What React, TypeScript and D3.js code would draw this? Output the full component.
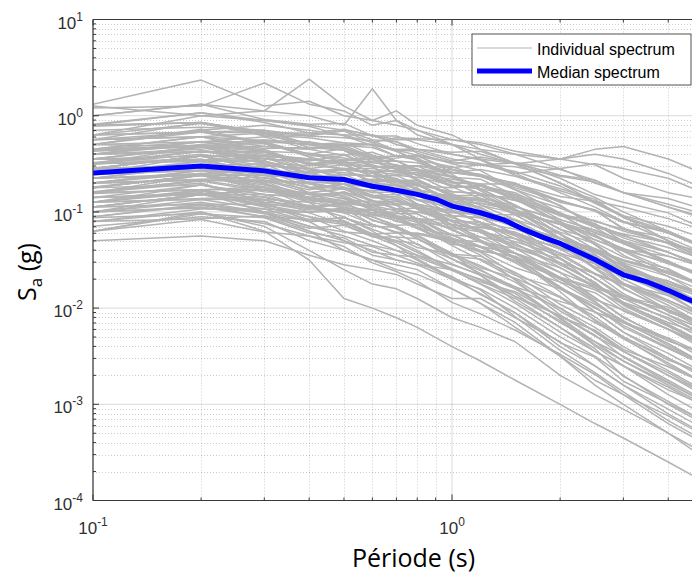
import React from "react";
import * as d3 from "d3";

// Periods (s) at which the individual spectra are sampled
const periods = [0.1, 0.2, 0.3, 0.4, 0.5, 0.6, 0.7, 0.8, 1.0, 1.2, 1.5, 2.0, 2.5, 3.0, 4.0, 5.0];

// Individual spectra, log10(Sa [g]) at each period above
const spectraLog10: number[][] = [
  [0.12, 0.37, 0.10, 0.15, 0.0, -0.05, -0.1, -0.15, -0.25, -0.3, -0.4, -0.55, -0.7, -0.8, -0.95, -1.05],
  [0.08, 0.1, 0.34, 0.12, 0.05, -0.1, -0.05, -0.2, -0.3, -0.45, -0.6, -0.8, -0.95, -1.1, -1.3, -1.45],
  [0.1, 0.0, 0.05, 0.38, 0.1, -0.05, 0.05, -0.1, -0.2, -0.35, -0.5, -0.7, -0.9, -1.05, -1.3, -1.5],
  [0.0, 0.12, 0.05, 0.0, -0.1, 0.28, -0.05, -0.15, -0.3, -0.4, -0.5, -0.7, -0.85, -1.0, -1.2, -1.35],
  [-0.3, -0.15, -0.1, -0.15, -0.2, -0.2, -0.25, -0.25, -0.3, -0.35, -0.4, -0.45, -0.35, -0.32, -0.45, -0.6],
  [-0.4, -0.3, -0.25, -0.3, -0.3, -0.3, -0.35, -0.35, -0.4, -0.45, -0.5, -0.45, -0.4, -0.45, -0.6, -0.75],
  [-0.2, 0.0, -0.05, -0.1, -0.15, -0.2, -0.3, -0.35, -0.45, -0.5, -0.6, -0.55, -0.5, -0.55, -0.65, -0.8],
  [-1.2, -1.0, -1.2, -1.5, -1.9, -2.0, -2.1, -2.2, -2.4, -2.55, -2.75, -3.0, -3.2, -3.35, -3.6, -3.8],
  [-1.1, -1.0, -1.15, -1.4, -1.6, -1.75, -1.8, -1.9, -2.1, -2.2, -2.35, -2.7, -2.9, -3.05, -3.3, -3.5],
  [-1.3, -1.25, -1.3, -1.45, -1.55, -1.6, -1.65, -1.75, -1.9, -1.9, -2.1, -2.35, -2.6, -2.8, -3.1, -3.3],
  [-0.9, -0.8, -1.0, -1.2, -1.4, -1.5, -1.55, -1.6, -1.8, -1.95, -2.2, -2.5, -2.75, -2.9, -3.2, -3.4],
  [-1.0, -0.95, -1.05, -1.2, -1.3, -1.45, -1.5, -1.55, -1.6, -1.75, -1.9, -2.2, -2.45, -2.6, -2.85, -3.0],
  [-0.10, 0.03, -0.07, -0.18, -0.14, -0.21, -0.21, -0.29, -0.40, -0.46, -0.62, -0.76, -0.87, -1.06, -1.22, -1.37],
  [-0.10, -0.07, -0.19, -0.21, -0.23, -0.26, -0.36, -0.41, -0.59, -0.63, -0.77, -0.93, -1.16, -1.33, -1.51, -1.67],
  [-0.20, -0.17, -0.15, -0.21, -0.15, -0.25, -0.27, -0.35, -0.38, -0.37, -0.49, -0.65, -0.82, -0.90, -1.01, -1.17],
  [-0.25, -0.17, -0.18, -0.33, -0.36, -0.45, -0.56, -0.57, -0.68, -0.83, -0.99, -1.27, -1.42, -1.56, -1.80, -1.97],
  [-0.35, -0.22, -0.26, -0.27, -0.33, -0.44, -0.42, -0.42, -0.56, -0.61, -0.75, -0.89, -0.98, -1.18, -1.33, -1.51],
  [-0.30, -0.14, -0.29, -0.40, -0.48, -0.53, -0.55, -0.67, -0.84, -1.01, -1.13, -1.34, -1.59, -1.79, -2.04, -2.17],
  [-0.35, -0.27, -0.34, -0.33, -0.31, -0.30, -0.36, -0.37, -0.47, -0.43, -0.49, -0.62, -0.67, -0.80, -0.95, -1.07],
  [-0.40, -0.38, -0.37, -0.39, -0.44, -0.51, -0.59, -0.59, -0.70, -0.71, -0.87, -1.11, -1.21, -1.32, -1.52, -1.67],
  [-0.36, -0.32, -0.35, -0.51, -0.55, -0.70, -0.72, -0.75, -0.98, -1.11, -1.33, -1.55, -1.73, -1.97, -2.19, -2.37],
  [-0.45, -0.32, -0.40, -0.45, -0.49, -0.49, -0.51, -0.57, -0.56, -0.63, -0.71, -0.90, -0.98, -1.11, -1.20, -1.37],
  [-0.49, -0.37, -0.38, -0.51, -0.47, -0.59, -0.68, -0.69, -0.81, -0.93, -1.01, -1.21, -1.33, -1.54, -1.75, -1.87],
  [-0.50, -0.46, -0.44, -0.57, -0.59, -0.63, -0.72, -0.79, -0.88, -1.02, -1.15, -1.37, -1.51, -1.74, -1.92, -2.07],
  [-0.50, -0.40, -0.49, -0.52, -0.49, -0.58, -0.61, -0.59, -0.74, -0.73, -0.87, -1.04, -1.12, -1.31, -1.46, -1.57],
  [-0.55, -0.42, -0.55, -0.63, -0.71, -0.85, -0.88, -0.97, -1.10, -1.29, -1.47, -1.79, -1.96, -2.13, -2.39, -2.57],
  [-0.55, -0.52, -0.50, -0.59, -0.56, -0.69, -0.68, -0.72, -0.87, -0.87, -0.99, -1.13, -1.32, -1.47, -1.59, -1.77],
  [-0.60, -0.48, -0.61, -0.62, -0.68, -0.68, -0.77, -0.87, -0.91, -1.04, -1.09, -1.33, -1.53, -1.62, -1.82, -1.97],
  [-0.56, -0.52, -0.58, -0.58, -0.55, -0.55, -0.59, -0.61, -0.66, -0.71, -0.71, -0.84, -0.89, -1.04, -1.15, -1.27],
  [-0.65, -0.52, -0.65, -0.71, -0.75, -0.85, -0.84, -0.95, -1.09, -1.19, -1.37, -1.53, -1.74, -1.94, -2.10, -2.27],
  [-0.65, -0.60, -0.58, -0.66, -0.66, -0.71, -0.73, -0.81, -0.85, -0.88, -1.01, -1.13, -1.26, -1.38, -1.54, -1.67],
  [-0.70, -0.57, -0.71, -0.82, -0.83, -0.97, -1.10, -1.13, -1.32, -1.42, -1.65, -1.96, -2.15, -2.31, -2.59, -2.77],
  [-0.70, -0.66, -0.64, -0.75, -0.71, -0.80, -0.79, -0.88, -0.95, -1.01, -1.09, -1.32, -1.41, -1.59, -1.72, -1.87],
  [-0.75, -0.62, -0.74, -0.85, -0.79, -0.89, -0.97, -0.96, -1.13, -1.18, -1.35, -1.49, -1.69, -1.88, -1.99, -2.17],
  [-0.79, -0.67, -0.69, -0.69, -0.71, -0.75, -0.76, -0.82, -0.83, -0.83, -0.85, -1.02, -1.16, -1.23, -1.32, -1.47],
  [-0.80, -0.77, -0.74, -0.88, -0.91, -0.95, -1.05, -1.11, -1.30, -1.36, -1.51, -1.69, -1.93, -2.15, -2.31, -2.47],
  [-0.80, -0.68, -0.79, -0.82, -0.80, -0.93, -0.92, -0.93, -1.06, -1.15, -1.21, -1.39, -1.57, -1.66, -1.85, -1.97],
  [-0.81, -0.77, -0.91, -0.98, -0.97, -1.13, -1.21, -1.34, -1.49, -1.64, -1.78, -2.11, -2.38, -2.55, -2.78, -2.97],
  [-0.85, -0.82, -0.77, -0.85, -0.89, -0.89, -0.89, -0.96, -1.01, -1.03, -1.16, -1.27, -1.38, -1.51, -1.64, -1.77],
  [-0.90, -0.78, -0.90, -0.93, -1.00, -1.05, -1.14, -1.13, -1.28, -1.40, -1.47, -1.70, -1.91, -2.02, -2.22, -2.37],
  [-0.90, -0.86, -0.84, -0.96, -0.92, -1.01, -1.00, -1.10, -1.16, -1.21, -1.31, -1.45, -1.65, -1.76, -1.92, -2.07],
  [-0.95, -0.82, -0.94, -1.08, -1.06, -1.15, -1.16, -1.28, -1.43, -1.58, -1.69, -1.89, -2.12, -2.30, -2.54, -2.67],
  [-0.95, -0.92, -1.00, -1.00, -0.99, -0.98, -1.05, -1.07, -1.18, -1.16, -1.23, -1.38, -1.45, -1.61, -1.74, -1.87],
  [-1.00, -0.96, -1.00, -1.10, -1.09, -1.23, -1.30, -1.33, -1.54, -1.66, -1.88, -2.08, -2.29, -2.45, -2.70, -2.87],
  [-1.05, -0.93, -1.05, -1.08, -1.13, -1.13, -1.21, -1.23, -1.31, -1.41, -1.46, -1.69, -1.81, -1.96, -2.15, -2.27],
  [-1.06, -1.02, -1.06, -1.22, -1.27, -1.42, -1.45, -1.53, -1.67, -1.86, -2.05, -2.36, -2.51, -2.76, -2.99, -3.17],
  [-1.10, -1.07, -1.04, -1.17, -1.14, -1.26, -1.26, -1.28, -1.46, -1.49, -1.66, -1.80, -2.00, -2.14, -2.34, -2.47],
  [0.00, 0.12, -0.04, -0.09, -0.08, -0.21, -0.27, -0.39, -0.50, -0.57, -0.77, -1.01, -1.25, -1.40, -1.60, -1.77],
  [-0.09, 0.03, -0.05, -0.11, -0.21, -0.31, -0.42, -0.46, -0.61, -0.78, -0.97, -1.28, -1.46, -1.67, -1.85, -2.07],
  [-0.20, -0.08, -0.20, -0.23, -0.28, -0.30, -0.37, -0.46, -0.53, -0.63, -0.70, -0.94, -1.13, -1.24, -1.42, -1.57],
  [-0.35, -0.31, -0.29, -0.42, -0.40, -0.53, -0.53, -0.55, -0.73, -0.76, -0.94, -1.10, -1.29, -1.41, -1.64, -1.77],
  [-0.50, -0.37, -0.42, -0.46, -0.47, -0.45, -0.44, -0.41, -0.48, -0.51, -0.49, -0.56, -0.67, -0.80, -0.86, -0.97],
  [-0.74, -0.62, -0.68, -0.86, -0.93, -1.09, -1.15, -1.25, -1.43, -1.66, -1.93, -2.20, -2.42, -2.71, -2.97, -3.17],
  [-0.60, -0.57, -0.60, -0.65, -0.74, -0.83, -0.86, -0.97, -1.14, -1.30, -1.43, -1.63, -1.89, -2.09, -2.34, -2.47],
  [-0.90, -0.78, -0.93, -1.01, -1.13, -1.25, -1.35, -1.49, -1.68, -1.81, -2.09, -2.44, -2.67, -2.87, -3.17, -3.37],
  [-0.37, -0.32, -0.37, -0.55, -0.66, -0.73, -0.77, -0.92, -1.18, -1.31, -1.49, -1.83, -2.13, -2.32, -2.57, -2.77],
  [-1.20, -1.08, -1.21, -1.25, -1.32, -1.36, -1.45, -1.47, -1.61, -1.73, -1.83, -2.09, -2.23, -2.43, -2.61, -2.77],
  [-0.25, -0.22, -0.18, -0.18, -0.20, -0.28, -0.23, -0.24, -0.25, -0.28, -0.37, -0.45, -0.51, -0.65, -0.80, -0.87],
  [-0.55, -0.42, -0.57, -0.74, -0.76, -0.89, -0.93, -1.09, -1.31, -1.45, -1.71, -2.07, -2.28, -2.51, -2.77, -2.97],
  [-0.75, -0.62, -0.77, -0.82, -0.89, -0.93, -1.04, -1.07, -1.27, -1.37, -1.51, -1.80, -1.99, -2.18, -2.41, -2.57],
  [-0.11, -0.07, -0.21, -0.28, -0.34, -0.41, -0.53, -0.66, -0.83, -0.98, -1.14, -1.48, -1.76, -1.94, -2.18, -2.37],
  [-0.95, -0.82, -0.88, -0.97, -0.90, -0.93, -0.89, -0.95, -0.99, -1.03, -1.03, -1.11, -1.24, -1.39, -1.46, -1.57],
  [-0.45, -0.33, -0.45, -0.49, -0.56, -0.60, -0.70, -0.71, -0.90, -0.95, -1.15, -1.32, -1.58, -1.75, -1.94, -2.12],
  [-0.61, -0.57, -0.54, -0.64, -0.67, -0.66, -0.67, -0.73, -0.75, -0.72, -0.82, -0.96, -1.10, -1.18, -1.27, -1.42],
  [-0.30, -0.17, -0.29, -0.40, -0.34, -0.46, -0.47, -0.56, -0.63, -0.73, -0.80, -1.03, -1.22, -1.33, -1.53, -1.67],
  [-0.40, -0.27, -0.27, -0.43, -0.51, -0.63, -0.65, -0.77, -0.94, -1.06, -1.23, -1.48, -1.69, -1.87, -2.07, -2.22],
  [-0.80, -0.62, -0.62, -0.65, -0.61, -0.63, -0.62, -0.64, -0.72, -0.76, -0.83, -1.01, -1.14, -1.27, -1.42, -1.57],
  [-0.60, -0.57, -0.52, -0.55, -0.64, -0.76, -0.72, -0.82, -0.99, -1.11, -1.25, -1.53, -1.74, -1.95, -2.17, -2.35],
  [-0.90, -0.77, -0.77, -0.87, -0.96, -0.98, -0.97, -1.00, -1.09, -1.13, -1.23, -1.38, -1.49, -1.60, -1.72, -1.87],
  [-0.25, -0.22, -0.32, -0.35, -0.31, -0.33, -0.42, -0.44, -0.64, -0.76, -0.93, -1.18, -1.39, -1.57, -1.77, -1.95],
  [-0.70, -0.67, -0.67, -0.70, -0.76, -0.88, -0.97, -1.07, -1.24, -1.36, -1.53, -1.78, -1.99, -2.20, -2.42, -2.59],
  [-0.50, -0.37, -0.45, -0.47, -0.41, -0.53, -0.55, -0.52, -0.59, -0.61, -0.71, -0.88, -0.99, -1.17, -1.32, -1.47],
  [-1.00, -0.87, -0.87, -1.00, -0.98, -1.01, -1.07, -1.07, -1.24, -1.36, -1.43, -1.58, -1.77, -1.87, -2.07, -2.22],
  [-0.15, -0.12, -0.15, -0.30, -0.36, -0.48, -0.55, -0.62, -0.69, -0.71, -0.85, -1.11, -1.34, -1.55, -1.77, -1.97],
  [-0.55, -0.42, -0.57, -0.70, -0.76, -0.78, -0.77, -0.77, -0.84, -0.96, -1.13, -1.38, -1.49, -1.60, -1.72, -1.85],
  [-0.85, -0.72, -0.85, -0.95, -1.01, -1.13, -1.22, -1.24, -1.44, -1.56, -1.73, -2.03, -2.24, -2.45, -2.67, -2.87],
  [-0.35, -0.22, -0.37, -0.50, -0.46, -0.43, -0.42, -0.42, -0.49, -0.51, -0.58, -0.73, -0.91, -1.05, -1.20, -1.37],
  [-0.65, -0.52, -0.67, -0.80, -0.86, -0.91, -0.89, -0.92, -0.99, -1.01, -1.08, -1.23, -1.41, -1.60, -1.82, -2.02],
  [-0.45, -0.42, -0.52, -0.55, -0.61, -0.73, -0.82, -0.92, -1.09, -1.21, -1.43, -1.73, -1.94, -2.15, -2.37, -2.57],
  [-0.95, -0.92, -0.92, -0.95, -0.91, -0.93, -0.99, -1.00, -1.04, -1.06, -1.13, -1.28, -1.39, -1.50, -1.62, -1.75],
  [-0.10, -0.07, -0.17, -0.30, -0.28, -0.41, -0.47, -0.49, -0.59, -0.63, -0.73, -0.88, -0.99, -1.10, -1.22, -1.37],
  [-0.75, -0.72, -0.82, -0.85, -0.91, -1.03, -1.05, -1.17, -1.32, -1.41, -1.58, -1.73, -1.84, -2.03, -2.22, -2.39],
  [-0.50, -0.47, -0.42, -0.45, -0.51, -0.63, -0.62, -0.72, -0.89, -0.91, -0.98, -1.13, -1.24, -1.45, -1.67, -1.87],
  [-1.05, -0.92, -1.02, -1.15, -1.21, -1.23, -1.32, -1.42, -1.59, -1.71, -1.88, -2.13, -2.39, -2.60, -2.82, -3.02],
  [-0.40, -0.37, -0.47, -0.60, -0.56, -0.58, -0.57, -0.57, -0.64, -0.66, -0.83, -1.08, -1.19, -1.30, -1.42, -1.55],
  [-0.65, -0.62, -0.72, -0.85, -0.91, -1.03, -1.09, -1.17, -1.24, -1.26, -1.33, -1.58, -1.79, -2.00, -2.22, -2.42],
  [-0.30, -0.32, -0.47, -0.65, -0.71, -0.83, -0.92, -1.02, -1.19, -1.31, -1.48, -1.78, -2.04, -2.25, -2.52, -2.72],
  [-0.80, -0.67, -0.67, -0.77, -0.71, -0.73, -0.72, -0.80, -0.86, -0.89, -0.95, -1.08, -1.19, -1.30, -1.52, -1.69],
  [-0.60, -0.47, -0.47, -0.60, -0.66, -0.68, -0.67, -0.67, -0.82, -0.93, -1.08, -1.33, -1.59, -1.80, -2.02, -2.19],
  [-0.90, -0.87, -0.97, -1.10, -1.06, -1.18, -1.27, -1.37, -1.44, -1.46, -1.63, -1.88, -2.09, -2.30, -2.52, -2.69],
  [-0.20, -0.17, -0.27, -0.40, -0.46, -0.48, -0.47, -0.57, -0.74, -0.86, -1.03, -1.28, -1.39, -1.50, -1.62, -1.77],
  [-0.70, -0.57, -0.57, -0.60, -0.56, -0.58, -0.67, -0.77, -0.94, -1.06, -1.23, -1.48, -1.69, -1.90, -2.02, -2.17],
  [-0.45, -0.32, -0.32, -0.35, -0.31, -0.43, -0.52, -0.62, -0.79, -0.81, -0.88, -1.03, -1.14, -1.25, -1.37, -1.49],
  [-0.85, -0.82, -0.77, -0.80, -0.76, -0.88, -0.97, -1.07, -1.14, -1.16, -1.23, -1.43, -1.64, -1.85, -2.07, -2.27],
  [-0.55, -0.52, -0.62, -0.65, -0.61, -0.63, -0.72, -0.82, -1.04, -1.21, -1.38, -1.63, -1.77, -1.90, -2.12, -2.32],
  [-1.00, -0.82, -0.82, -0.85, -0.81, -0.83, -0.82, -0.82, -0.89, -0.91, -0.98, -1.13, -1.34, -1.55, -1.77, -1.97],
  [-0.35, -0.32, -0.27, -0.30, -0.36, -0.53, -0.67, -0.77, -0.84, -0.86, -1.03, -1.28, -1.49, -1.70, -1.92, -2.09],
  [-0.75, -0.62, -0.77, -0.90, -0.96, -1.08, -1.17, -1.27, -1.49, -1.61, -1.78, -1.93, -2.04, -2.15, -2.37, -2.57],
  [-0.60, -0.42, -0.42, -0.55, -0.51, -0.53, -0.52, -0.52, -0.69, -0.81, -0.88, -1.03, -1.09, -1.20, -1.32, -1.42],
  [-1.10, -0.97, -0.97, -1.00, -0.96, -0.98, -1.07, -1.17, -1.34, -1.36, -1.43, -1.68, -1.89, -2.10, -2.32, -2.52],
  [-0.40, -0.27, -0.37, -0.50, -0.56, -0.68, -0.69, -0.70, -0.89, -1.01, -1.15, -1.28, -1.39, -1.53, -1.67, -1.82],
  [-0.65, -0.62, -0.62, -0.65, -0.71, -0.83, -0.92, -0.92, -1.09, -1.21, -1.28, -1.43, -1.54, -1.65, -1.77, -1.89],
  [-0.25, -0.07, -0.17, -0.20, -0.16, -0.28, -0.37, -0.47, -0.64, -0.76, -0.93, -1.23, -1.49, -1.75, -2.02, -2.22],
  [-0.95, -0.82, -0.92, -1.05, -1.11, -1.23, -1.22, -1.22, -1.29, -1.31, -1.38, -1.53, -1.64, -1.75, -1.87, -1.97],
  [-0.50, -0.47, -0.57, -0.70, -0.66, -0.68, -0.77, -0.87, -1.04, -1.06, -1.13, -1.28, -1.39, -1.60, -1.82, -2.02],
  [-0.80, -0.77, -0.87, -0.90, -0.86, -0.98, -1.07, -1.07, -1.09, -1.11, -1.18, -1.33, -1.54, -1.75, -1.97, -2.17],
  [-0.30, -0.27, -0.22, -0.35, -0.41, -0.38, -0.47, -0.57, -0.59, -0.56, -0.63, -0.78, -0.89, -0.95, -1.07, -1.19],
  [-0.70, -0.67, -0.77, -0.80, -0.76, -0.78, -0.87, -0.97, -1.14, -1.26, -1.43, -1.68, -1.79, -1.90, -2.02, -2.15],
  [-0.55, -0.42, -0.42, -0.45, -0.51, -0.63, -0.72, -0.72, -0.79, -0.81, -0.98, -1.23, -1.44, -1.65, -1.87, -2.07],
  [-0.90, -0.72, -0.82, -0.95, -1.01, -1.03, -1.02, -1.02, -1.19, -1.31, -1.48, -1.78, -2.04, -2.25, -2.47, -2.67],
  [-0.45, -0.47, -0.47, -0.60, -0.56, -0.58, -0.57, -0.67, -0.84, -0.86, -0.93, -1.18, -1.29, -1.40, -1.52, -1.65],
  [-0.75, -0.62, -0.62, -0.75, -0.81, -0.93, -0.92, -0.92, -0.99, -1.11, -1.28, -1.53, -1.74, -1.95, -2.17, -2.37],
  [-1.20, -1.02, -1.12, -1.25, -1.36, -1.53, -1.62, -1.72, -1.94, -2.06, -2.23, -2.48, -2.69, -2.90, -3.12, -3.32],
  [-0.50, -0.32, -0.42, -0.60, -0.56, -0.58, -0.57, -0.52, -0.54, -0.51, -0.53, -0.63, -0.69, -0.80, -0.92, -1.02],
  [-0.80, -0.70, -0.90, -1.10, -1.30, -1.40, -1.50, -1.55, -1.70, -1.80, -2.00, -2.30, -2.50, -2.70, -3.00, -3.20],
  [-0.60, -0.55, -0.70, -0.90, -1.10, -1.25, -1.30, -1.40, -1.60, -1.75, -1.95, -2.25, -2.45, -2.60, -2.90, -3.10],
  [-0.70, -0.60, -0.75, -0.95, -1.05, -1.20, -1.35, -1.45, -1.55, -1.65, -1.80, -2.00, -2.20, -2.40, -2.65, -2.85],
  [-1.00, -0.90, -1.00, -1.15, -1.25, -1.35, -1.40, -1.50, -1.70, -1.85, -2.05, -2.40, -2.60, -2.80, -3.05, -3.25],
  [-0.50, -0.45, -0.60, -0.80, -0.95, -1.05, -1.15, -1.25, -1.45, -1.60, -1.80, -2.10, -2.35, -2.55, -2.80, -3.00],
  [-1.15, -1.05, -1.10, -1.30, -1.40, -1.50, -1.60, -1.65, -1.80, -1.95, -2.15, -2.50, -2.80, -3.00, -3.30, -3.55],
  [-0.85, -0.80, -0.95, -1.05, -1.20, -1.30, -1.40, -1.45, -1.60, -1.70, -1.85, -2.15, -2.35, -2.50, -2.75, -2.95],
  [-0.40, -0.35, -0.50, -0.70, -0.85, -0.95, -1.05, -1.15, -1.35, -1.50, -1.70, -2.00, -2.25, -2.45, -2.70, -2.90],
];

// Median spectrum
const medianPeriods = [0.1, 0.2, 0.3, 0.4, 0.5, 0.6, 0.7, 0.8, 0.9, 1.0, 1.2, 1.4, 1.6, 1.8, 2.0, 2.5, 3.0, 3.5, 4.0, 4.5, 5.0];
const medianSa = [0.253, 0.30, 0.267, 0.226, 0.217, 0.185, 0.168, 0.152, 0.136, 0.115, 0.098, 0.082, 0.0646, 0.054, 0.047, 0.032, 0.0222, 0.0187, 0.0153, 0.0125, 0.0108];

const xTickExps = [-1, 0];
const yTickExps = [-4, -3, -2, -1, 0, 1];
const legendLabels = ["Individual spectrum", "Median spectrum"];
const xLabel = "Période (s)";

const W = 692;
const H = 577;
const L = 93;
const R = 703;
const T = 19.5;
const B = 500.5;

const TICK_FONT = "'Liberation Sans', Arial, Helvetica, sans-serif";
const LABEL_FONT = "'Open Sans', 'Noto Sans', sans-serif";

export default function App() {
  const x = d3.scaleLog().domain([0.1, 5]).range([L, R]);
  const y = d3.scaleLog().domain([1e-4, 10]).range([B, T]);

  const line = d3
    .line<[number, number]>()
    .x((d) => x(d[0]))
    .y((d) => y(d[1]));

  const yMinor: number[] = [];
  for (let e = -4; e < 1; e++) for (let m = 2; m <= 9; m++) yMinor.push(m * Math.pow(10, e));
  const xMinor: number[] = [];
  for (let e = -1; e < 1; e++)
    for (let m = 2; m <= 9; m++) {
      const v = m * Math.pow(10, e);
      if (v <= 5) xMinor.push(v);
    }
  const yMajor = yTickExps.map((e) => Math.pow(10, e));
  const xMajor = xTickExps.map((e) => Math.pow(10, e));

  const axisColor = "#3a3a3a";

  return (
    <svg width={W} height={H} style={{ position: "absolute", left: 0, top: 0, background: "#fff" }}>
      <defs>
        <clipPath id="plot">
          <rect x={L} y={T} width={R - L} height={B - T} />
        </clipPath>
      </defs>
      <rect x={0} y={0} width={W} height={H} fill="#fff" />

      {/* minor grid */}
      <g stroke="#262626" strokeOpacity={0.24} strokeWidth={1} strokeDasharray="1 2">
        {yMinor.map((v, i) => (
          <line key={"ym" + i} x1={L} x2={R} y1={Math.round(y(v)) + 0.5} y2={Math.round(y(v)) + 0.5} />
        ))}
        {xMinor.map((v, i) => (
          <line key={"xm" + i} y1={T} y2={B} x1={Math.round(x(v)) + 0.5} x2={Math.round(x(v)) + 0.5} />
        ))}
      </g>
      {/* major grid */}
      <g stroke="#262626" strokeOpacity={0.17} strokeWidth={1}>
        {yMajor.map((v, i) => (
          <line key={"yM" + i} x1={L} x2={R} y1={y(v)} y2={y(v)} />
        ))}
        {xMajor.map((v, i) => (
          <line key={"xM" + i} y1={T} y2={B} x1={x(v)} x2={x(v)} />
        ))}
      </g>

      {/* data */}
      <g clipPath="url(#plot)" fill="none">
        {spectraLog10.map((row, i) => (
          <path
            key={"s" + i}
            d={line(periods.map((p, k) => [p, Math.pow(10, row[k])] as [number, number])) || ""}
            stroke="#b3b3b3"
            strokeWidth={1.5}
            strokeLinejoin="round"
          />
        ))}
        <path
          d={line(medianPeriods.map((p, k) => [p, medianSa[k]] as [number, number])) || ""}
          stroke="#0000ff"
          strokeWidth={5}
          strokeLinejoin="round"
        />
      </g>

      {/* axes box */}
      <g stroke={axisColor} strokeWidth={1.2} fill="none">
        <line x1={L} x2={L} y1={T} y2={B} />
        <line x1={L} x2={R} y1={B} y2={B} />
        <line x1={L} x2={R} y1={T} y2={T} />
      </g>
      {/* ticks */}
      <g stroke={axisColor} strokeWidth={1}>
        {yMajor.map((v, i) => (
          <line key={"yt" + i} x1={L} x2={L + 6} y1={y(v)} y2={y(v)} />
        ))}
        {yMinor.map((v, i) => (
          <line key={"ymt" + i} x1={L} x2={L + 3} y1={y(v)} y2={y(v)} />
        ))}
        {xMajor.map((v, i) => (
          <g key={"xt" + i}>
            <line x1={x(v)} x2={x(v)} y1={B} y2={B - 6} />
            <line x1={x(v)} x2={x(v)} y1={T} y2={T + 6} />
          </g>
        ))}
        {xMinor.map((v, i) => (
          <g key={"xmt" + i}>
            <line x1={x(v)} x2={x(v)} y1={B} y2={B - 3} />
            <line x1={x(v)} x2={x(v)} y1={T} y2={T + 3} />
          </g>
        ))}
      </g>

      {/* tick labels */}
      <g fontFamily={TICK_FONT} fill="#303030">
        {yTickExps.map((e) => (
          <text key={"yl" + e} x={83} y={y(Math.pow(10, e)) + 9} textAnchor="end" fontSize={17}>
            10
            <tspan dy={-8} fontSize={12}>
              {String(e)}
            </tspan>
          </text>
        ))}
        {xTickExps.map((e) => (
          <text key={"xl" + e} x={x(Math.pow(10, e))} y={534} textAnchor="middle" fontSize={17}>
            10
            <tspan dy={-8} fontSize={12}>
              {String(e)}
            </tspan>
          </text>
        ))}
      </g>

      {/* axis labels */}
      <text x={(345 + 482) / 2} y={567} textAnchor="middle" fontFamily={LABEL_FONT} fontSize={25} fill="#000">
        {xLabel}
      </text>
      <text transform="translate(36,272) rotate(-90)" textAnchor="middle" fontFamily={LABEL_FONT} fontSize={25} fill="#000">
        S
        <tspan dy={6} fontSize={17}>
          a
        </tspan>
        <tspan dy={-6}> (g)</tspan>
      </text>

      {/* legend */}
      <g>
        <rect x={472} y={34} width={219} height={51} fill="#fff" stroke="#262626" strokeWidth={0.8} />
        <line x1={477} x2={532} y1={48} y2={48} stroke="#b3b3b3" strokeWidth={1.2} />
        <line x1={477} x2={532} y1={71} y2={71} stroke="#0000ff" strokeWidth={5} />
        <text x={537} y={55} fontFamily={TICK_FONT} fontSize={16} fill="#000">
          {legendLabels[0]}
        </text>
        <text x={537} y={78} fontFamily={TICK_FONT} fontSize={16} fill="#000">
          {legendLabels[1]}
        </text>
      </g>
    </svg>
  );
}
